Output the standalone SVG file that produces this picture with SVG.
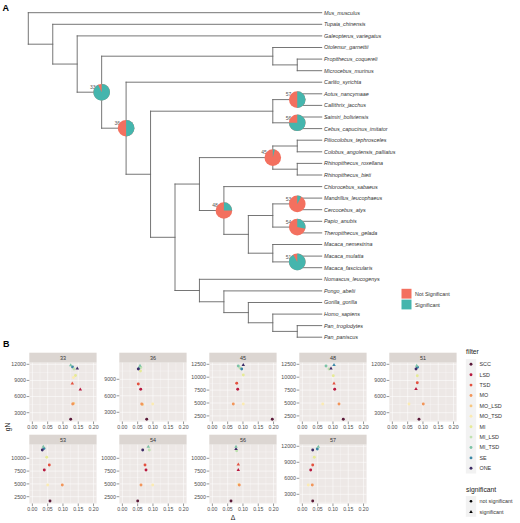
<svg xmlns="http://www.w3.org/2000/svg" xmlns:xlink="http://www.w3.org/1999/xlink" width="520" height="523" viewBox="0 0 520 523">
<defs>
<style>
text{font-family:"Liberation Sans",Arial,sans-serif}
.br{stroke:#666;stroke-width:0.9;fill:none;stroke-linecap:square}
.tip{font-size:5.4px;font-style:italic;fill:#333}
.nl{font-size:5px;fill:#555;text-anchor:end}
.ns{fill:#F3705F}
.sg{fill:#45B5AD}
.lg{font-size:5.4px;fill:#333}
.pb{fill:#EDE8E6}
.strip{fill:#DCD6D2}
.st{font-size:5.4px;fill:#333;text-anchor:middle}
.gM{stroke:#fff;stroke-width:0.55}
.gm{stroke:#fff;stroke-width:0.28}
.ax{font-size:5.2px;fill:#4d4d4d}
.axy{font-size:5.2px;fill:#4d4d4d;text-anchor:end}
.axx{font-size:5.2px;fill:#4d4d4d;text-anchor:middle}
.tk{stroke:#333;stroke-width:0.5}
.ttl{font-size:6.8px;fill:#1a1a1a}
.lab{font-size:9px;font-weight:bold;fill:#000}
.SCC{fill:#5B1A3A}.LSD{fill:#B8193F}.TSD{fill:#E4513F}.MO{fill:#F29559}.MO_LSD{fill:#F7C67F}.MO_TSD{fill:#FBEBB2}.MI{fill:#E6EA96}.MI_LSD{fill:#BFE1B0}.MI_TSD{fill:#7CC3A6}.SE{fill:#3A87A7}.ONE{fill:#3E2C66}.blk{fill:#000}
</style>
<path id="tri" d="M0,-1.9L1.75,1.1L-1.75,1.1Z"/>
</defs>
<rect width="520" height="523" fill="#fff"/>
<text class="lab" x="2.5" y="11">A</text>
<text class="lab" x="3" y="347">B</text>

<g id="connectors">
<path class="br" d="M28.3,12.7V44.2M28.3,12.7H321.7M28.3,44.2H52.75
M52.75,24.3V64.05M52.75,24.3H321.7M52.75,64.05H77.2
M77.2,35.9V92.2M77.2,35.9H321.7M77.2,92.2H101.65
M101.65,56.2V128.2M101.65,56.2H272.8M101.65,128.2H126.1
M272.8,47.5V64.9M272.8,47.5H321.7M272.8,64.9H297.25
M297.25,59.1V70.7M297.25,59.1H321.7M297.25,70.7H321.7
M126.1,82.2V174.25M126.1,82.2H321.7M126.1,174.25H150.55
M150.55,111.2V237.3M150.55,111.2H272.8M150.55,237.3H175
M272.8,99.6V122.8M272.8,99.6H297.25M272.8,122.8H297.25
M297.25,93.8V105.4M297.25,93.8H321.7M297.25,105.4H321.7
M297.25,117V128.6M297.25,117H321.7M297.25,128.6H321.7
M175,184.05V290.5M175,184.05H199.45M175,290.5H199.45
M199.45,157.6V210.5M199.45,157.6H272.8M199.45,210.5H223.9
M272.8,146V169.2M272.8,146H297.25M272.8,169.2H297.25
M297.25,140.2V151.8M297.25,140.2H321.7M297.25,151.8H321.7
M297.25,163.4V175M297.25,163.4H321.7M297.25,175H321.7
M223.9,186.6V234.35M223.9,186.6H321.7M223.9,234.35H248.35
M248.35,215.5V253.2M248.35,215.5H272.8M248.35,253.2H272.8
M272.8,203.9V227.1M272.8,203.9H297.25M272.8,227.1H297.25
M297.25,198.1V209.7M297.25,198.1H321.7M297.25,209.7H321.7
M297.25,221.3V232.9M297.25,221.3H321.7M297.25,232.9H321.7
M272.8,244.5V261.9M272.8,244.5H321.7M272.8,261.9H297.25
M297.25,256.1V267.7M297.25,256.1H321.7M297.25,267.7H321.7
M199.45,279.3V301.75M199.45,279.3H321.7M199.45,301.75H223.9
M223.9,290.9V312.6M223.9,290.9H321.7M223.9,312.6H248.35
M248.35,302.5V322.75M248.35,302.5H321.7M248.35,322.75H272.8
M272.8,314.1V331.4M272.8,314.1H321.7M272.8,331.4H297.25
M297.25,325.6V337.2M297.25,325.6H321.7M297.25,337.2H321.7"/>
</g>

<g id="tips" class="tip">
<g id="t0"><text x="324" y="14.6">Mus_musculus</text></g>
<g id="t1"><text x="324" y="26.2">Tupaia_chinensis</text></g>
<g id="t2"><text x="324" y="37.8">Galeopterus_variegatus</text></g>
<g id="t3"><text x="324" y="49.4">Otolemur_garnettii</text></g>
<g id="t4"><text x="324" y="61">Propithecus_coquereli</text></g>
<g id="t5"><text x="324" y="72.6">Microcebus_murinus</text></g>
<g id="t6"><text x="324" y="84.1">Carlito_syrichta</text></g>
<g id="t7"><text x="324" y="95.7">Aotus_nancymaae</text></g>
<g id="t8"><text x="324" y="107.3">Callithrix_jacchus</text></g>
<g id="t9"><text x="324" y="118.9">Saimiri_boliviensis</text></g>
<g id="t10"><text x="324" y="130.5">Cebus_capucinus_imitator</text></g>
<g id="t11"><text x="324" y="142.1">Piliocolobus_tephrosceles</text></g>
<g id="t12"><text x="324" y="153.7">Colobus_angolensis_palliatus</text></g>
<g id="t13"><text x="324" y="165.3">Rhinopithecus_roxellana</text></g>
<g id="t14"><text x="324" y="176.9">Rhinopithecus_bieti</text></g>
<g id="t15"><text x="324" y="188.5">Chlorocebus_sabaeus</text></g>
<g id="t16"><text x="324" y="200">Mandrillus_leucophaeus</text></g>
<g id="t17"><text x="324" y="211.6">Cercocebus_atys</text></g>
<g id="t18"><text x="324" y="223.2">Papio_anubis</text></g>
<g id="t19"><text x="324" y="234.8">Theropithecus_gelada</text></g>
<g id="t20"><text x="324" y="246.4">Macaca_nemestrina</text></g>
<g id="t21"><text x="324" y="258">Macaca_mulatta</text></g>
<g id="t22"><text x="324" y="269.6">Macaca_fascicularis</text></g>
<g id="t23"><text x="324" y="281.2">Nomascus_leucogenys</text></g>
<g id="t24"><text x="324" y="292.8">Pongo_abelii</text></g>
<g id="t25"><text x="324" y="304.4">Gorilla_gorilla</text></g>
<g id="t26"><text x="324" y="316">Homo_sapiens</text></g>
<g id="t27"><text x="324" y="327.5">Pan_troglodytes</text></g>
<g id="t28"><text x="324" y="339.1">Pan_paniscus</text></g>
</g>

<g id="node33" transform="translate(101.65,92.2)"><text class="nl" x="-6" y="-3.2">33</text><circle class="ns" r="8.3"/><path class="sg" d="M0,0L0,-8.3A8.3,8.3 0 1 1 -3.53,-7.51Z"/></g>
<g id="node36" transform="translate(126.1,128.2)"><text class="nl" x="-6" y="-3.2">36</text><circle class="ns" r="8.3"/><path class="sg" d="M0,0L0,-8.3A8.3,8.3 0 0 1 0,8.3Z"/></g>
<g id="node57" transform="translate(297.25,99.6)"><text class="nl" x="-6" y="-3.2">57</text><circle class="ns" r="8.3"/><path class="sg" d="M0,0L0,-8.3A8.3,8.3 0 0 1 0,8.3Z"/></g>
<g id="node56" transform="translate(297.25,122.8)"><text class="nl" x="-6" y="-3.2">56</text><circle class="ns" r="8.3"/><path class="sg" d="M0,0L0,-8.3A8.3,8.3 0 1 1 -8.3,0Z"/></g>
<g id="node45" transform="translate(272.8,157.6)"><text class="nl" x="-6" y="-3.2">45</text><circle class="ns" r="8.3"/><path class="sg" d="M0,0L0,-8.3A8.3,8.3 0 0 1 2.06,-8.04Z"/></g>
<g id="node48" transform="translate(223.9,210.5)"><text class="nl" x="-6" y="-3.2">48</text><circle class="ns" r="8.3"/><path class="sg" d="M0,0L0,-8.3A8.3,8.3 0 0 1 8.3,0Z"/></g>
<g id="node53" transform="translate(297.25,203.9)"><text class="nl" x="-6" y="-3.2">53</text><circle class="ns" r="8.3"/><path class="sg" d="M0,0L0,-8.3A8.3,8.3 0 0 1 4,-7.27Z"/></g>
<g id="node54" transform="translate(297.25,227.1)"><text class="nl" x="-6" y="-3.2">54</text><circle class="ns" r="8.3"/><path class="sg" d="M0,0L0,-8.3A8.3,8.3 0 0 1 8.15,1.56Z"/></g>
<g id="node51" transform="translate(297.25,261.9)"><text class="nl" x="-6" y="-3.2">51</text><circle class="ns" r="8.3"/><path class="sg" d="M0,0L0,-8.3A8.3,8.3 0 1 1 -4,-7.27Z"/></g>

<g id="legendA">
<rect class="ns" x="401.5" y="288.8" width="10" height="9.8"/>
<rect class="sg" x="401.5" y="299.6" width="10" height="9.8"/>
<text class="lg" x="415" y="295.7">Not Significant</text>
<text class="lg" x="415" y="306.5">Significant</text>
</g>

<!-- Panel B facets -->
<g id="facet33">
<rect class="strip" x="29.3" y="352.7" width="67.3" height="10"/><text class="st" x="62.95" y="359.6">33</text>
<rect class="pb" x="29.3" y="362.7" width="67.3" height="58.8"/>
<path class="gm" d="M40,362.7V421.5M55.3,362.7V421.5M70.6,362.7V421.5M85.9,362.7V421.5M29.3,372.37H96.6M29.3,388.5H96.6M29.3,404.6H96.6M29.3,420.76H96.6"/>
<path class="gM" d="M32.36,362.7V421.5M47.66,362.7V421.5M62.96,362.7V421.5M78.26,362.7V421.5M93.56,362.7V421.5M29.3,364.3H96.6M29.3,380.43H96.6M29.3,396.56H96.6M29.3,412.69H96.6"/>
<path class="tk" d="M26.6,364.3H29.3M26.6,380.43H29.3M26.6,396.56H29.3M26.6,412.69H29.3M32.36,421.5V424.2M47.66,421.5V424.2M62.96,421.5V424.2M78.26,421.5V424.2M93.56,421.5V424.2"/>
<text class="axy" x="25.8" y="366.1">12000</text><text class="axy" x="25.8" y="382.2">9000</text><text class="axy" x="25.8" y="398.4">6000</text><text class="axy" x="25.8" y="414.5">3000</text>
<text class="axx" x="32.36" y="429.2">0.00</text><text class="axx" x="47.66" y="429.2">0.05</text><text class="axx" x="62.96" y="429.2">0.10</text><text class="axx" x="78.26" y="429.2">0.15</text><text class="axx" x="93.56" y="429.2">0.20</text>
<circle class="SE" cx="72.5" cy="367" r="1.45"/><circle class="MI_LSD" cx="74" cy="369" r="1.45"/><use href="#tri" class="MI_TSD" x="70.7" y="365.2"/><use href="#tri" class="ONE" x="77.3" y="368.3"/>
<circle class="MO_TSD" cx="73.5" cy="377.5" r="1.45"/><circle class="MI" cx="75.5" cy="375.5" r="1.45"/>
<use href="#tri" class="TSD" x="72.3" y="383.3"/><use href="#tri" class="LSD" x="80.3" y="389.3"/>
<circle class="MO_LSD" cx="73.6" cy="403.5" r="1.45"/><circle class="MO" cx="72.7" cy="404" r="1.45"/>
<circle class="SCC" cx="70.7" cy="419.3" r="1.45"/>
</g>

<g id="facet36">
<rect class="strip" x="119.3" y="352.7" width="67.3" height="10"/><text class="st" x="152.95" y="359.6">36</text>
<rect class="pb" x="119.3" y="362.7" width="67.3" height="58.8"/>
<path class="gm" d="M130,362.7V421.5M145.3,362.7V421.5M160.6,362.7V421.5M175.9,362.7V421.5M119.3,371.05H186.6M119.3,387.55H186.6M119.3,404.05H186.6M119.3,420.55H186.6"/>
<path class="gM" d="M122.36,362.7V421.5M137.66,362.7V421.5M152.96,362.7V421.5M168.26,362.7V421.5M183.56,362.7V421.5M119.3,379.3H186.6M119.3,395.8H186.6M119.3,412.3H186.6"/>
<path class="tk" d="M116.6,379.3H119.3M116.6,395.8H119.3M116.6,412.3H119.3M122.36,421.5V424.2M137.66,421.5V424.2M152.96,421.5V424.2M168.26,421.5V424.2M183.56,421.5V424.2"/>
<text class="axy" x="115.8" y="381.1">9000</text><text class="axy" x="115.8" y="397.6">6000</text><text class="axy" x="115.8" y="414.1">3000</text>
<text class="axx" x="122.36" y="429.2">0.00</text><text class="axx" x="137.66" y="429.2">0.05</text><text class="axx" x="152.96" y="429.2">0.10</text><text class="axx" x="168.26" y="429.2">0.15</text><text class="axx" x="183.56" y="429.2">0.20</text>
<circle class="MI" cx="140.5" cy="371" r="1.45"/><circle class="SE" cx="139.5" cy="368" r="1.45"/><circle class="MI_LSD" cx="140.8" cy="367.5" r="1.45"/><circle class="ONE" cx="138.3" cy="369" r="1.45"/><use href="#tri" class="MI_TSD" x="140" y="365.7"/>
<circle class="TSD" cx="138.3" cy="384" r="1.45"/><circle class="LSD" cx="140.7" cy="389.3" r="1.45"/>
<circle class="MO_LSD" cx="142.5" cy="404.5" r="1.45"/><circle class="MO" cx="141.7" cy="404" r="1.45"/><circle class="MO_TSD" cx="152.7" cy="404" r="1.45"/>
<circle class="SCC" cx="146.7" cy="419.3" r="1.45"/>
</g>

<g id="facet45">
<rect class="strip" x="209.3" y="352.7" width="67.3" height="10"/><text class="st" x="242.95" y="359.6">45</text>
<rect class="pb" x="209.3" y="362.7" width="67.3" height="58.8"/>
<path class="gm" d="M220,362.7V421.5M235.3,362.7V421.5M250.6,362.7V421.5M265.9,362.7V421.5M209.3,370.75H276.6M209.3,383.65H276.6M209.3,396.55H276.6M209.3,409.45H276.6"/>
<path class="gM" d="M212.36,362.7V421.5M227.66,362.7V421.5M242.96,362.7V421.5M258.26,362.7V421.5M273.56,362.7V421.5M209.3,364.3H276.6M209.3,377.2H276.6M209.3,390.1H276.6M209.3,403H276.6M209.3,415.9H276.6"/>
<path class="tk" d="M206.6,364.3H209.3M206.6,377.2H209.3M206.6,390.1H209.3M206.6,403H209.3M206.6,415.9H209.3M212.36,421.5V424.2M227.66,421.5V424.2M242.96,421.5V424.2M258.26,421.5V424.2M273.56,421.5V424.2"/>
<text class="axy" x="205.8" y="366.1">12500</text><text class="axy" x="205.8" y="379">10000</text><text class="axy" x="205.8" y="391.9">7500</text><text class="axy" x="205.8" y="404.8">5000</text><text class="axy" x="205.8" y="417.7">2500</text>
<text class="axx" x="212.36" y="429.2">0.00</text><text class="axx" x="227.66" y="429.2">0.05</text><text class="axx" x="242.96" y="429.2">0.10</text><text class="axx" x="258.26" y="429.2">0.15</text><text class="axx" x="273.56" y="429.2">0.20</text>
<circle class="MI_LSD" cx="240" cy="368" r="1.45"/><circle class="MI_TSD" cx="238.3" cy="366" r="1.45"/><circle class="SE" cx="241.7" cy="369" r="1.45"/><use href="#tri" class="ONE" x="243.3" y="365"/>
<circle class="MI" cx="243.3" cy="375" r="1.45"/>
<circle class="TSD" cx="236.7" cy="383.3" r="1.45"/><circle class="LSD" cx="237.7" cy="389.3" r="1.45"/>
<circle class="MO" cx="233.3" cy="404" r="1.45"/><circle class="MO_TSD" cx="243.3" cy="404" r="1.45"/>
<circle class="SCC" cx="272.3" cy="419.3" r="1.45"/>
</g>

<g id="facet48">
<rect class="strip" x="299.3" y="352.7" width="67.3" height="10"/><text class="st" x="332.95" y="359.6">48</text>
<rect class="pb" x="299.3" y="362.7" width="67.3" height="58.8"/>
<path class="gm" d="M310,362.7V421.5M325.3,362.7V421.5M340.6,362.7V421.5M355.9,362.7V421.5M299.3,370.75H366.6M299.3,383.65H366.6M299.3,396.55H366.6M299.3,409.45H366.6"/>
<path class="gM" d="M302.36,362.7V421.5M317.66,362.7V421.5M332.96,362.7V421.5M348.26,362.7V421.5M363.56,362.7V421.5M299.3,364.3H366.6M299.3,377.2H366.6M299.3,390.1H366.6M299.3,403H366.6M299.3,415.9H366.6"/>
<path class="tk" d="M296.6,364.3H299.3M296.6,377.2H299.3M296.6,390.1H299.3M296.6,403H299.3M296.6,415.9H299.3M302.36,421.5V424.2M317.66,421.5V424.2M332.96,421.5V424.2M348.26,421.5V424.2M363.56,421.5V424.2"/>
<text class="axy" x="295.8" y="366.1">12500</text><text class="axy" x="295.8" y="379">10000</text><text class="axy" x="295.8" y="391.9">7500</text><text class="axy" x="295.8" y="404.8">5000</text><text class="axy" x="295.8" y="417.7">2500</text>
<text class="axx" x="302.36" y="429.2">0.00</text><text class="axx" x="317.66" y="429.2">0.05</text><text class="axx" x="332.96" y="429.2">0.10</text><text class="axx" x="348.26" y="429.2">0.15</text><text class="axx" x="363.56" y="429.2">0.20</text>
<circle class="MI_TSD" cx="326" cy="366" r="1.45"/><circle class="MI_LSD" cx="329" cy="369" r="1.45"/><use href="#tri" class="ONE" x="331" y="368.3"/><use href="#tri" class="SE" x="334" y="365"/>
<circle class="MI" cx="333.3" cy="375.7" r="1.45"/>
<use href="#tri" class="TSD" x="334" y="383.3"/><circle class="LSD" cx="334.7" cy="389.3" r="1.45"/>
<circle class="MO" cx="339" cy="404" r="1.45"/><circle class="MO_TSD" cx="322.7" cy="404" r="1.45"/>
<circle class="SCC" cx="343.3" cy="419.3" r="1.45"/>
</g>

<g id="facet51">
<rect class="strip" x="389.3" y="352.7" width="67.3" height="10"/><text class="st" x="422.95" y="359.6">51</text>
<rect class="pb" x="389.3" y="362.7" width="67.3" height="58.8"/>
<path class="gm" d="M400,362.7V421.5M415.3,362.7V421.5M430.6,362.7V421.5M445.9,362.7V421.5M389.3,372.37H456.6M389.3,388.5H456.6M389.3,404.6H456.6M389.3,420.76H456.6"/>
<path class="gM" d="M392.36,362.7V421.5M407.66,362.7V421.5M422.96,362.7V421.5M438.26,362.7V421.5M453.56,362.7V421.5M389.3,364.3H456.6M389.3,380.43H456.6M389.3,396.56H456.6M389.3,412.69H456.6"/>
<path class="tk" d="M386.6,364.3H389.3M386.6,380.43H389.3M386.6,396.56H389.3M386.6,412.69H389.3M392.36,421.5V424.2M407.66,421.5V424.2M422.96,421.5V424.2M438.26,421.5V424.2M453.56,421.5V424.2"/>
<text class="axy" x="385.8" y="366.1">12000</text><text class="axy" x="385.8" y="382.2">9000</text><text class="axy" x="385.8" y="398.4">6000</text><text class="axy" x="385.8" y="414.5">3000</text>
<text class="axx" x="392.36" y="429.2">0.00</text><text class="axx" x="407.66" y="429.2">0.05</text><text class="axx" x="422.96" y="429.2">0.10</text><text class="axx" x="438.26" y="429.2">0.15</text><text class="axx" x="453.56" y="429.2">0.20</text>
<circle class="SE" cx="417.5" cy="367.3" r="1.45"/><circle class="ONE" cx="416" cy="369" r="1.45"/><use href="#tri" class="MI_TSD" x="416.7" y="365.7"/>
<circle class="MI" cx="417.3" cy="375.7" r="1.45"/>
<circle class="TSD" cx="417.3" cy="382.7" r="1.45"/><use href="#tri" class="LSD" x="416" y="389"/>
<circle class="MO" cx="423.3" cy="404" r="1.45"/><circle class="MO_TSD" cx="409" cy="404" r="1.45"/>
<circle class="SCC" cx="419" cy="419.3" r="1.45"/>
</g>

<g id="facet53">
<rect class="strip" x="29.3" y="434.7" width="67.3" height="10"/><text class="st" x="62.95" y="441.6">53</text>
<rect class="pb" x="29.3" y="444.7" width="67.3" height="58.8"/>
<path class="gm" d="M40,444.7V503.5M55.3,444.7V503.5M70.6,444.7V503.5M85.9,444.7V503.5M29.3,451.9H96.6M29.3,464.7H96.6M29.3,477.5H96.6M29.3,490.3H96.6M29.3,503.1H96.6"/>
<path class="gM" d="M32.36,444.7V503.5M47.66,444.7V503.5M62.96,444.7V503.5M78.26,444.7V503.5M93.56,444.7V503.5M29.3,458.3H96.6M29.3,471.1H96.6M29.3,483.9H96.6M29.3,496.7H96.6"/>
<path class="tk" d="M26.6,458.3H29.3M26.6,471.1H29.3M26.6,483.9H29.3M26.6,496.7H29.3M32.36,503.5V506.2M47.66,503.5V506.2M62.96,503.5V506.2M78.26,503.5V506.2M93.56,503.5V506.2"/>
<text class="axy" x="25.8" y="460.1">10000</text><text class="axy" x="25.8" y="472.9">7500</text><text class="axy" x="25.8" y="485.7">5000</text><text class="axy" x="25.8" y="498.5">2500</text>
<text class="axx" x="32.36" y="511.2">0.00</text><text class="axx" x="47.66" y="511.2">0.05</text><text class="axx" x="62.96" y="511.2">0.10</text><text class="axx" x="78.26" y="511.2">0.15</text><text class="axx" x="93.56" y="511.2">0.20</text>
<circle class="SE" cx="44" cy="448.5" r="1.45"/><circle class="ONE" cx="42.3" cy="450" r="1.45"/><use href="#tri" class="MI_TSD" x="43.3" y="446.7"/>
<circle class="MI" cx="46.7" cy="457.3" r="1.45"/>
<circle class="TSD" cx="49.3" cy="465" r="1.45"/><circle class="LSD" cx="44.3" cy="470" r="1.45"/>
<circle class="MO_TSD" cx="47.7" cy="485" r="1.45"/><circle class="MO" cx="62.3" cy="485" r="1.45"/>
<circle class="SCC" cx="50" cy="501" r="1.45"/>
</g>

<g id="facet54">
<rect class="strip" x="119.3" y="434.7" width="67.3" height="10"/><text class="st" x="152.95" y="441.6">54</text>
<rect class="pb" x="119.3" y="444.7" width="67.3" height="58.8"/>
<path class="gm" d="M130,444.7V503.5M145.3,444.7V503.5M160.6,444.7V503.5M175.9,444.7V503.5M119.3,451.9H186.6M119.3,464.7H186.6M119.3,477.5H186.6M119.3,490.3H186.6M119.3,503.1H186.6"/>
<path class="gM" d="M122.36,444.7V503.5M137.66,444.7V503.5M152.96,444.7V503.5M168.26,444.7V503.5M183.56,444.7V503.5M119.3,458.3H186.6M119.3,471.1H186.6M119.3,483.9H186.6M119.3,496.7H186.6"/>
<path class="tk" d="M116.6,458.3H119.3M116.6,471.1H119.3M116.6,483.9H119.3M116.6,496.7H119.3M122.36,503.5V506.2M137.66,503.5V506.2M152.96,503.5V506.2M168.26,503.5V506.2M183.56,503.5V506.2"/>
<text class="axy" x="115.8" y="460.1">10000</text><text class="axy" x="115.8" y="472.9">7500</text><text class="axy" x="115.8" y="485.7">5000</text><text class="axy" x="115.8" y="498.5">2500</text>
<text class="axx" x="122.36" y="511.2">0.00</text><text class="axx" x="137.66" y="511.2">0.05</text><text class="axx" x="152.96" y="511.2">0.10</text><text class="axx" x="168.26" y="511.2">0.15</text><text class="axx" x="183.56" y="511.2">0.20</text>
<circle class="MI_LSD" cx="149.3" cy="450" r="1.45"/><circle class="ONE" cx="142.7" cy="450" r="1.45"/><use href="#tri" class="MI_TSD" x="148.3" y="446.7"/>
<circle class="TSD" cx="145" cy="465" r="1.45"/><circle class="LSD" cx="146" cy="470" r="1.45"/>
<circle class="MO" cx="141" cy="485" r="1.45"/><circle class="MO_TSD" cx="152.7" cy="485" r="1.45"/>
<circle class="SCC" cx="137.7" cy="501" r="1.45"/>
</g>

<g id="facet56">
<rect class="strip" x="209.3" y="434.7" width="67.3" height="10"/><text class="st" x="242.95" y="441.6">56</text>
<rect class="pb" x="209.3" y="444.7" width="67.3" height="58.8"/>
<path class="gm" d="M220,444.7V503.5M235.3,444.7V503.5M250.6,444.7V503.5M265.9,444.7V503.5M209.3,451.9H276.6M209.3,464.7H276.6M209.3,477.5H276.6M209.3,490.3H276.6M209.3,503.1H276.6"/>
<path class="gM" d="M212.36,444.7V503.5M227.66,444.7V503.5M242.96,444.7V503.5M258.26,444.7V503.5M273.56,444.7V503.5M209.3,458.3H276.6M209.3,471.1H276.6M209.3,483.9H276.6M209.3,496.7H276.6"/>
<path class="tk" d="M206.6,458.3H209.3M206.6,471.1H209.3M206.6,483.9H209.3M206.6,496.7H209.3M212.36,503.5V506.2M227.66,503.5V506.2M242.96,503.5V506.2M258.26,503.5V506.2M273.56,503.5V506.2"/>
<text class="axy" x="205.8" y="460.1">10000</text><text class="axy" x="205.8" y="472.9">7500</text><text class="axy" x="205.8" y="485.7">5000</text><text class="axy" x="205.8" y="498.5">2500</text>
<text class="axx" x="212.36" y="511.2">0.00</text><text class="axx" x="227.66" y="511.2">0.05</text><text class="axx" x="242.96" y="511.2">0.10</text><text class="axx" x="258.26" y="511.2">0.15</text><text class="axx" x="273.56" y="511.2">0.20</text>
<circle class="MI_LSD" cx="236.7" cy="450.7" r="1.45"/><use href="#tri" class="ONE" x="236" y="449"/><use href="#tri" class="MI_TSD" x="236" y="446.7"/>
<use href="#tri" class="TSD" x="238.3" y="464.3"/><use href="#tri" class="LSD" x="238.3" y="470"/>
<circle class="MO_TSD" cx="238.5" cy="484.5" r="1.45"/><circle class="MO" cx="239.3" cy="485" r="1.45"/>
<circle class="SCC" cx="231" cy="501" r="1.45"/>
</g>

<g id="facet57">
<rect class="strip" x="299.3" y="434.7" width="67.3" height="10"/><text class="st" x="332.95" y="441.6">57</text>
<rect class="pb" x="299.3" y="444.7" width="67.3" height="58.8"/>
<path class="gm" d="M310,444.7V503.5M325.3,444.7V503.5M340.6,444.7V503.5M355.9,444.7V503.5M299.3,454.3H366.6M299.3,470.3H366.6M299.3,486.3H366.6M299.3,502.3H366.6"/>
<path class="gM" d="M302.36,444.7V503.5M317.66,444.7V503.5M332.96,444.7V503.5M348.26,444.7V503.5M363.56,444.7V503.5M299.3,446.3H366.6M299.3,462.3H366.6M299.3,478.3H366.6M299.3,494.3H366.6"/>
<path class="tk" d="M296.6,446.3H299.3M296.6,462.3H299.3M296.6,478.3H299.3M296.6,494.3H299.3M302.36,503.5V506.2M317.66,503.5V506.2M332.96,503.5V506.2M348.26,503.5V506.2M363.56,503.5V506.2"/>
<text class="axy" x="295.8" y="448.1">12000</text><text class="axy" x="295.8" y="464.1">9000</text><text class="axy" x="295.8" y="480.1">6000</text><text class="axy" x="295.8" y="496.1">3000</text>
<text class="axx" x="302.36" y="511.2">0.00</text><text class="axx" x="317.66" y="511.2">0.05</text><text class="axx" x="332.96" y="511.2">0.10</text><text class="axx" x="348.26" y="511.2">0.15</text><text class="axx" x="363.56" y="511.2">0.20</text>
<circle class="SE" cx="317.3" cy="449" r="1.45"/><circle class="ONE" cx="312.7" cy="450" r="1.45"/><use href="#tri" class="MI_TSD" x="318.3" y="446.7"/>
<circle class="MI" cx="314.3" cy="457.3" r="1.45"/>
<circle class="TSD" cx="312.7" cy="465" r="1.45"/><circle class="LSD" cx="310.7" cy="470" r="1.45"/>
<circle class="MO_TSD" cx="308.3" cy="485" r="1.45"/><circle class="MO" cx="312.3" cy="485" r="1.45"/>
<circle class="SCC" cx="312.7" cy="501" r="1.45"/>
</g>

<text class="ttl" x="233" y="520" text-anchor="middle">Δ</text>
<text class="ttl" transform="translate(9.5,427) rotate(-90)" text-anchor="middle">gN</text>

<g id="legendB">
<text class="ttl" x="466" y="354">filter</text>
<rect x="465.8" y="359.1" width="10.4" height="114.4" fill="#F2F2F2"/>
<circle class="SCC" cx="471" cy="364.3" r="1.45"/><text class="lg" x="479.5" y="366.2">SCC</text>
<circle class="LSD" cx="471" cy="374.7" r="1.45"/><text class="lg" x="479.5" y="376.6">LSD</text>
<circle class="TSD" cx="471" cy="385.1" r="1.45"/><text class="lg" x="479.5" y="387">TSD</text>
<circle class="MO" cx="471" cy="395.5" r="1.45"/><text class="lg" x="479.5" y="397.4">MO</text>
<circle class="MO_LSD" cx="471" cy="405.9" r="1.45"/><text class="lg" x="479.5" y="407.8">MO_LSD</text>
<circle class="MO_TSD" cx="471" cy="416.3" r="1.45"/><text class="lg" x="479.5" y="418.2">MO_TSD</text>
<circle class="MI" cx="471" cy="426.7" r="1.45"/><text class="lg" x="479.5" y="428.6">MI</text>
<circle class="MI_LSD" cx="471" cy="437.1" r="1.45"/><text class="lg" x="479.5" y="439">MI_LSD</text>
<circle class="MI_TSD" cx="471" cy="447.5" r="1.45"/><text class="lg" x="479.5" y="449.4">MI_TSD</text>
<circle class="SE" cx="471" cy="457.9" r="1.45"/><text class="lg" x="479.5" y="459.8">SE</text>
<circle class="ONE" cx="471" cy="468.3" r="1.45"/><text class="lg" x="479.5" y="470.2">ONE</text>
<text class="ttl" x="466" y="492">significant</text>
<rect x="465.8" y="496" width="10.4" height="20.8" fill="#F2F2F2"/>
<circle class="blk" cx="471" cy="501.2" r="1.3"/><text class="lg" x="479.5" y="503.1">not significant</text>
<use href="#tri" class="blk" x="471" y="511.8"/><text class="lg" x="479.5" y="513.5">significant</text>
</g>
</svg>
